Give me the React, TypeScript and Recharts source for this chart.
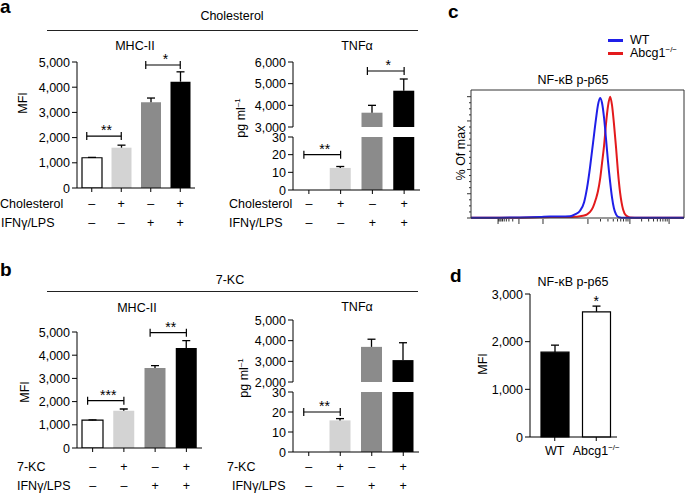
import React from "react";
import {
  BarChart,
  Bar,
  XAxis,
  YAxis,
  Cell,
  ReferenceLine,
  ReferenceDot,
  LineChart,
  Line,
} from "recharts";

const FONT = '"Liberation Sans", Arial, Helvetica, sans-serif';

// four treatment groups, shared by a and b
const groupKeys = ["g1", "g2", "g3", "g4"];
const treatSigns = ["–", "+", "–", "+"];
const ifnSigns = ["–", "–", "+", "+"];
const barFills = ["#ffffff", "#d3d3d3", "#8b8b8b", "#000000"];

// a: cholesterol
const cholMhcMean = [1200, 1600, 3400, 4220];
const cholMhcErr = [15, 100, 170, 390];
const cholTnfMean = [0, 12.5, 3660, 4675];
const cholTnfErr = [0, 0.8, 340, 540];

// b: 7-KC
const kcMhcMean = [1200, 1610, 3450, 4310];
const kcMhcErr = [15, 70, 100, 320];
const kcTnfMean = [0, 15.8, 3700, 3060];
const kcTnfErr = [0, 0.9, 370, 840];

// d: NF-kB p-p65 MFI
const nfGroups = ["WT", "Abcg1"];
const nfMean = [1780, 2627];
const nfErr = [147, 119];
const nfFills = ["#000000", "#ffffff"];

// c: histogram (channel 0-1000, % of max)
const histX = [0, 136, 230, 324, 371, 418, 465, 488, 512, 531, 545, 559, 573, 587, 596, 606, 615, 625, 634, 643, 653, 662, 671, 681, 690, 700, 714, 728, 746, 793, 887, 1000];
const wtPct = [0.3, 0.3, 0.4, 0.8, 1.2, 1.2, 1.5, 3, 6, 13, 25, 42, 62, 82, 93, 99, 95, 82, 65, 47, 30, 17, 8, 3, 1, 0.4, 0.2, 0.2, 0.2, 0.2, 0.2, 0.2];
const koPct = [0.2, 0.2, 0.3, 0.6, 0.8, 0.8, 0.8, 1, 1.5, 2, 3, 5, 9, 16, 22, 32, 45, 60, 78, 92, 100, 93, 78, 58, 38, 21, 7, 2, 0.5, 0.2, 0.2, 0.2];
const histMajorX = [127, 225, 338, 549, 746, 930];
const histMinorX = [130, 136, 141, 148, 156, 166, 178, 196, 608, 643, 668, 688, 703, 716, 728, 737, 801, 834, 857, 875, 889, 901, 912, 921];
const pctTicks = [0, 5, 10, 15, 20, 25, 30, 35, 40, 45, 50, 55, 60, 65, 70, 75, 80, 85, 90, 95, 100];

const mhcTicks = [0, 1000, 2000, 3000, 4000, 5000];
const tnfLowTicks = [0, 10, 20, 30];
const cholTnfHighTicks = [3000, 4000, 5000, 6000];
const kcTnfHighTicks = [2000, 3000, 4000, 5000];
const nfTicks = [0, 1000, 2000, 3000];

const rows = (mean: number[], err: number[]) =>
  groupKeys.map((g, i) => ({ g, v: mean[i], e: err[i] }));

const fmt = (v: number) => v.toLocaleString("en-US");

const SignTick = (props: any) => {
  const { x, y, payload, d1, d2 } = props;
  const i = groupKeys.indexOf(payload.value);
  return (
    <g fontSize={12.5} fontFamily={FONT} fill="#000">
      <text x={x} y={y - 4 + d1} textAnchor="middle">{treatSigns[i]}</text>
      <text x={x} y={y - 4 + d2} textAnchor="middle">{ifnSigns[i]}</text>
    </g>
  );
};

const ValTick = (props: any) => {
  const { x, y, payload } = props;
  return (
    <text x={x} y={y + 4.5} textAnchor="end" fontSize={12.5} fontFamily={FONT} fill="#000">
      {fmt(payload.value)}
    </text>
  );
};

// upper half of the SEM, stacked on top of the mean bar
const Whisker = (props: any) => {
  const { x, y, width, height } = props;
  if (!height || height <= 0) return null;
  const cx = x + width / 2;
  return (
    <g stroke="#000" strokeWidth={1.3}>
      <line x1={cx} y1={y} x2={cx} y2={y + height} />
      <line x1={cx - 4} y1={y} x2={cx + 4} y2={y} />
    </g>
  );
};

const bracketShape = (p: any) => {
  const { x1, y1, x2 } = p;
  const l = x1 - 5;
  return (
    <g stroke="#000" strokeWidth={1.2}>
      <line x1={l} y1={y1} x2={x2} y2={y1} />
      <line x1={l} y1={y1 - 4} x2={l} y2={y1 + 4} />
      <line x1={x2} y1={y1 - 4} x2={x2} y2={y1 + 4} />
    </g>
  );
};

type Bracket = { from: string; to: string; y: number; label: string };

type PanelProps = {
  left: number;
  top: number;
  width: number;
  height: number;
  mTop: number;
  mBottom: number;
  yWidth: number;
  data: any[];
  domain: [number, number];
  ticks: number[];
  barSize: number;
  rowOffsets?: [number, number];
  brackets?: Bracket[];
};

function BarPanel(p: PanelProps) {
  return (
    <div style={{ position: "absolute", left: p.left, top: p.top }}>
      <BarChart
        width={p.width}
        height={p.height}
        data={p.data}
        margin={{ top: p.mTop, right: 2, bottom: p.mBottom, left: 0 }}
      >
        <XAxis
          dataKey="g"
          hide={!p.rowOffsets}
          height={45}
          interval={0}
          axisLine={{ stroke: "#000" }}
          tickLine={{ stroke: "#000" }}
          tickSize={4}
          tickMargin={0}
          tick={<SignTick d1={p.rowOffsets ? p.rowOffsets[0] : 0} d2={p.rowOffsets ? p.rowOffsets[1] : 0} />}
        />
        <YAxis
          width={p.yWidth}
          domain={p.domain}
          ticks={p.ticks}
          allowDataOverflow
          interval={0}
          tickSize={5}
          tickMargin={2}
          axisLine={{ stroke: "#000" }}
          tickLine={{ stroke: "#000" }}
          tick={<ValTick />}
        />
        <Bar dataKey="v" stackId="s" barSize={p.barSize} isAnimationActive={false}>
          {p.data.map((d, i) => (
            <Cell key={d.g} fill={barFills[i]} stroke={i === 0 ? "#000" : "none"} strokeWidth={1.2} />
          ))}
        </Bar>
        <Bar dataKey="e" stackId="s" barSize={p.barSize} shape={<Whisker />} isAnimationActive={false} />
        {(p.brackets || []).map((b) => (
          <ReferenceLine
            key={b.from + b.y}
            segment={[
              { x: b.from, y: b.y },
              { x: b.to, y: b.y },
            ]}
            shape={bracketShape}
            label={{ value: b.label, position: "top", offset: 1, fontSize: 14, fill: "#000", fontFamily: FONT }}
          />
        ))}
      </BarChart>
    </div>
  );
}

const HistXTick = (props: any) => {
  const { x, y, payload } = props;
  const len = histMajorX.includes(payload.value) ? 5 : 2.5;
  return <line x1={x} y1={y + 1} x2={x} y2={y + 1 + len} stroke="#333" strokeWidth={1} />;
};

const HistYTick = (props: any) => {
  const { x, y, payload } = props;
  const len = payload.value % 20 === 0 ? 4 : 2;
  return <line x1={x - len} y1={y} x2={x} y2={y} stroke="#333" strokeWidth={1} />;
};

const NfTick = (props: any) => {
  const { x, y, payload } = props;
  return (
    <text x={x} y={y + 14} textAnchor="middle" fontSize={12.5} fontFamily={FONT} fill="#000">
      <tspan>{payload.value}</tspan>
      {payload.value === "Abcg1" && (
        <tspan dy={-5} fontSize={8}>
          −/−
        </tspan>
      )}
    </text>
  );
};

const T = ({ x, y, children, anchor = "start", size = 12.5, bold = false, rotate = false }: any) => {
  const tx = anchor === "middle" || rotate ? "-50%" : anchor === "end" ? "-100%" : "0";
  return (
    <div
      style={{
        position: "absolute",
        left: x,
        top: y,
        transform: `translate(${tx}, -50%)${rotate ? " rotate(-90deg)" : ""}`,
        fontSize: size,
        fontWeight: bold ? 700 : 400,
        lineHeight: 1,
        whiteSpace: "nowrap",
        color: "#000",
      }}
    >
      {children}
    </div>
  );
};

const pgml = (
  <span>
    pg ml<sup style={{ fontSize: 8, verticalAlign: "5px" }}>–1</sup>
  </span>
);

const letter = (ch: string, left: number, top: number) => (
  <div style={{ position: "absolute", left, top, fontSize: 19, fontWeight: 700, lineHeight: "12px" }}>{ch}</div>
);

export default function App() {
  const cholMhc = rows(cholMhcMean, cholMhcErr);
  const cholTnf = rows(cholTnfMean, cholTnfErr);
  const kcMhc = rows(kcMhcMean, kcMhcErr);
  const kcTnf = rows(kcTnfMean, kcTnfErr);
  const nfData = nfGroups.map((g, i) => ({ g, v: nfMean[i], e: nfErr[i] }));
  const histData = histX.map((x, i) => ({ x, wt: wtPct[i], ko: koPct[i] }));

  return (
    <div
      style={{
        position: "absolute",
        left: 0,
        top: 0,
        width: 685,
        height: 493,
        background: "#fff",
        fontFamily: FONT,
        overflow: "hidden",
      }}
    >
      {/* panel letters */}
      {letter("a", 0, 1)}
      {letter("b", 0, 264)}
      {letter("c", 448, 6)}
      {letter("d", 450, 270)}

      {/* a */}
      <T x={232} y={16} anchor="middle">Cholesterol</T>
      <div style={{ position: "absolute", left: 47, top: 30, width: 371, height: 1, background: "#222" }} />
      <T x={135} y={46} anchor="middle">MHC-II</T>
      <T x={357} y={46} anchor="middle">TNFα</T>
      <T x={22.5} y={103} rotate>MFI</T>
      <T x={241} y={118} rotate>{pgml}</T>
      <T x={0} y={204}>Cholesterol</T>
      <T x={1} y={223}>IFNγ/LPS</T>
      <T x={229} y={204}>Cholesterol</T>
      <T x={229} y={223}>IFNγ/LPS</T>

      <BarPanel
        left={0}
        top={42}
        width={197}
        height={191}
        mTop={20}
        mBottom={0}
        yWidth={77}
        data={cholMhc}
        domain={[0, 5000]}
        ticks={mhcTicks}
        barSize={20}
        rowOffsets={[20, 39]}
        brackets={[
          { from: "g1", to: "g2", y: 2060, label: "**" },
          { from: "g3", to: "g4", y: 4880, label: "*" },
        ]}
      />
      <BarPanel
        left={230}
        top={42}
        width={192}
        height={93}
        mTop={20}
        mBottom={8}
        yWidth={63}
        data={cholTnf}
        domain={[3000, 6000]}
        ticks={cholTnfHighTicks}
        barSize={21}
        brackets={[{ from: "g3", to: "g4", y: 5585, label: "*" }]}
      />
      <BarPanel
        left={230}
        top={121}
        width={192}
        height={114}
        mTop={16}
        mBottom={0}
        yWidth={63}
        data={cholTnf}
        domain={[0, 30]}
        ticks={tnfLowTicks}
        barSize={21}
        rowOffsets={[18, 37]}
        brackets={[{ from: "g1", to: "g2", y: 20, label: "**" }]}
      />

      {/* b */}
      <T x={230} y={280} anchor="middle">7-KC</T>
      <div style={{ position: "absolute", left: 47, top: 291, width: 371, height: 1, background: "#222" }} />
      <T x={137} y={308} anchor="middle">MHC-II</T>
      <T x={357} y={307} anchor="middle">TNFα</T>
      <T x={25} y={392} rotate>MFI</T>
      <T x={244} y={378} rotate>{pgml}</T>
      <T x={17} y={467}>7-KC</T>
      <T x={17} y={486}>IFNγ/LPS</T>
      <T x={227} y={467}>7-KC</T>
      <T x={232} y={486}>IFNγ/LPS</T>

      <BarPanel
        left={0}
        top={312}
        width={204}
        height={181}
        mTop={20}
        mBottom={0}
        yWidth={77}
        data={kcMhc}
        domain={[0, 5000]}
        ticks={mhcTicks}
        barSize={21}
        rowOffsets={[22.7, 42]}
        brackets={[
          { from: "g1", to: "g2", y: 2040, label: "***" },
          { from: "g3", to: "g4", y: 4970, label: "**" },
        ]}
      />
      <BarPanel
        left={230}
        top={310}
        width={191}
        height={80}
        mTop={10}
        mBottom={8}
        yWidth={63}
        data={kcTnf}
        domain={[2000, 5000]}
        ticks={kcTnfHighTicks}
        barSize={21}
      />
      <BarPanel
        left={230}
        top={376}
        width={191}
        height={121}
        mTop={16}
        mBottom={0}
        yWidth={63}
        data={kcTnf}
        domain={[0, 30]}
        ticks={tnfLowTicks}
        barSize={21}
        rowOffsets={[18.7, 38]}
        brackets={[{ from: "g1", to: "g2", y: 20, label: "**" }]}
      />

      {/* c */}
      <div style={{ position: "absolute", left: 608, top: 39, width: 15, height: 2.5, background: "#1f1fe8" }} />
      <div style={{ position: "absolute", left: 608, top: 52, width: 15, height: 2.5, background: "#e31a1c" }} />
      <T x={630} y={40}>WT</T>
      <T x={630} y={53}>
        Abcg1<sup style={{ fontSize: 8, verticalAlign: "5px" }}>−/−</sup>
      </T>
      <T x={573} y={80} anchor="middle">NF-κB p-p65</T>
      <T x={461} y={153} rotate>% Of max</T>
      <div style={{ position: "absolute", left: 460, top: 80 }}>
        <LineChart width={225} height={153} data={histData} margin={{ top: 9, right: 0, left: 10, bottom: 0 }}>
          <XAxis
            xAxisId="b"
            type="number"
            dataKey="x"
            domain={[0, 1000]}
            ticks={[...histMajorX, ...histMinorX]}
            interval={0}
            tick={<HistXTick />}
            tickLine={false}
            tickSize={0}
            tickMargin={0}
            height={15}
            axisLine={{ stroke: "#333" }}
          />
          <XAxis
            xAxisId="t"
            orientation="top"
            type="number"
            dataKey="x"
            domain={[0, 1000]}
            tick={false}
            tickLine={false}
            height={1}
            axisLine={{ stroke: "#333" }}
          />
          <YAxis
            yAxisId="l"
            domain={[0, 105.5]}
            ticks={pctTicks}
            interval={0}
            tick={<HistYTick />}
            tickLine={false}
            tickSize={0}
            tickMargin={0}
            width={1}
            axisLine={{ stroke: "#333" }}
          />
          <YAxis
            yAxisId="r"
            orientation="right"
            domain={[0, 105.5]}
            tick={false}
            tickLine={false}
            width={1}
            axisLine={{ stroke: "#333" }}
          />
          <Line xAxisId="b" yAxisId="l" type="monotone" dataKey="ko" stroke="#e31a1c" strokeWidth={2} dot={false} isAnimationActive={false} />
          <Line xAxisId="b" yAxisId="l" type="monotone" dataKey="wt" stroke="#1f1fe8" strokeWidth={2} dot={false} isAnimationActive={false} />
        </LineChart>
      </div>

      {/* d */}
      <T x={573} y={282} anchor="middle">NF-κB p-p65</T>
      <T x={483} y={364} rotate>MFI</T>
      <div style={{ position: "absolute", left: 460, top: 284 }}>
        <BarChart width={162} height={183} data={nfData} margin={{ top: 10, right: 5, bottom: 0, left: 0 }}>
          <XAxis
            dataKey="g"
            height={30}
            interval={0}
            padding={{ left: 4, right: 0 }}
            axisLine={{ stroke: "#000" }}
            tickLine={{ stroke: "#000" }}
            tickSize={4}
            tickMargin={0}
            tick={<NfTick />}
          />
          <YAxis
            width={70}
            domain={[0, 3000]}
            ticks={nfTicks}
            interval={0}
            tickSize={5}
            tickMargin={2}
            axisLine={{ stroke: "#000" }}
            tickLine={{ stroke: "#000" }}
            tick={<ValTick />}
          />
          <Bar dataKey="v" stackId="s" barSize={28} isAnimationActive={false}>
            {nfData.map((d, i) => (
              <Cell key={d.g} fill={nfFills[i]} stroke="#000" strokeWidth={1.2} />
            ))}
          </Bar>
          <Bar dataKey="e" stackId="s" barSize={28} shape={<Whisker />} isAnimationActive={false} />
          <ReferenceDot
            x="Abcg1"
            y={2853}
            r={0}
            fill="none"
            stroke="none"
            label={{ value: "*", position: "center", fontSize: 14, fill: "#000", fontFamily: FONT }}
          />
        </BarChart>
      </div>
    </div>
  );
}
